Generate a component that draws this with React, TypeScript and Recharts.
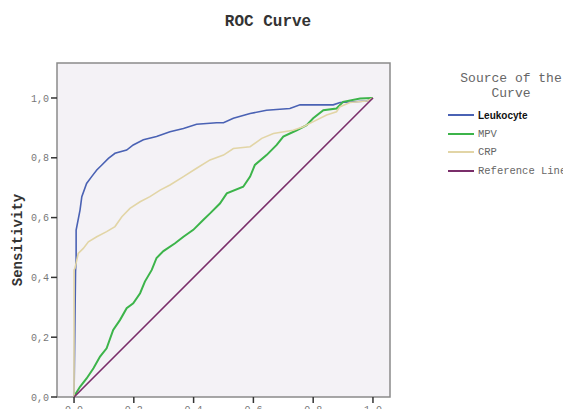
import React from "react";
import {
  LineChart,
  Line,
  XAxis,
  YAxis,
  ReferenceArea,
} from "recharts";

// ROC points: [1 - specificity, sensitivity]
const leukocyteX = [0, 0.005, 0.007, 0.007, 0.02, 0.026, 0.042, 0.059, 0.076, 0.093, 0.115, 0.137, 0.176, 0.198, 0.232, 0.276, 0.321, 0.366, 0.41, 0.477, 0.5, 0.533, 0.589, 0.644, 0.722, 0.756, 0.867, 0.89, 0.98, 1];
const leukocyteY = [0, 0.42, 0.46, 0.558, 0.625, 0.67, 0.714, 0.737, 0.759, 0.776, 0.798, 0.815, 0.826, 0.843, 0.86, 0.871, 0.887, 0.898, 0.912, 0.917, 0.917, 0.932, 0.948, 0.959, 0.965, 0.977, 0.977, 0.985, 0.99, 1];

const crpX = [0, 0, 0.003, 0.014, 0.031, 0.048, 0.076, 0.109, 0.137, 0.16, 0.187, 0.221, 0.254, 0.288, 0.321, 0.366, 0.41, 0.455, 0.5, 0.533, 0.589, 0.628, 0.667, 0.733, 0.767, 0.789, 0.845, 0.878, 0.89, 0.923, 0.98, 1];
const crpY = [0, 0.425, 0.43, 0.48, 0.497, 0.519, 0.536, 0.553, 0.57, 0.603, 0.631, 0.653, 0.67, 0.692, 0.709, 0.737, 0.765, 0.793, 0.809, 0.831, 0.837, 0.865, 0.881, 0.892, 0.904, 0.915, 0.943, 0.954, 0.971, 0.985, 0.99, 1];

const mpvX = [0, 0.003, 0.02, 0.042, 0.065, 0.087, 0.109, 0.131, 0.154, 0.176, 0.198, 0.221, 0.237, 0.26, 0.276, 0.299, 0.338, 0.366, 0.399, 0.432, 0.455, 0.488, 0.511, 0.566, 0.589, 0.605, 0.644, 0.678, 0.7, 0.745, 0.778, 0.8, 0.834, 0.878, 0.9, 0.957, 0.996, 1];
const mpvY = [0, 0.007, 0.034, 0.062, 0.096, 0.135, 0.163, 0.224, 0.258, 0.297, 0.313, 0.347, 0.386, 0.425, 0.465, 0.488, 0.514, 0.536, 0.559, 0.592, 0.614, 0.647, 0.681, 0.703, 0.737, 0.776, 0.809, 0.843, 0.871, 0.892, 0.909, 0.932, 0.959, 0.965, 0.987, 0.998, 1, 1];

const refX = [0, 1];
const refY = [0, 1];

const xTicks = [0, 0.2, 0.4, 0.6, 0.8, 1.0];
const yTicks = [0, 0.2, 0.4, 0.6, 0.8, 1.0];

const toPoints = (xs: number[], ys: number[]) =>
  xs.map((x, i) => ({ x, y: ys[i] }));

const series = [
  { name: "Leukocyte", color: "#4a62b4", width: 1.6, data: toPoints(leukocyteX, leukocyteY) },
  { name: "MPV", color: "#3cb44a", width: 2, data: toPoints(mpvX, mpvY) },
  { name: "CRP", color: "#e2d5a6", width: 1.6, data: toPoints(crpX, crpY) },
  { name: "Reference Line", color: "#7a2e6a", width: 1.6, data: toPoints(refX, refY) },
];

const mono = "'Liberation Mono', 'DejaVu Sans Mono', monospace";

// legend drawn by hand so it doesn't eat into the plot width
const LegendBox = () => (
  <div style={{ position: "absolute", left: 448, top: 71, width: 130, fontFamily: mono, color: "#666" }}>
    <div style={{ fontSize: 13, textAlign: "center", lineHeight: "15px", width: 114, marginLeft: 6 }}>
      Source of the
      <br />
      Curve
    </div>
    <div style={{ marginTop: 5 }}>
      {series.map((s, i) => (
        <div key={s.name} style={{ display: "flex", alignItems: "center", height: 18.5 }}>
          <div style={{ width: 26, height: 2, background: s.color, marginRight: 4 }} />
          <span
            style={
              i === 0
                ? { fontFamily: "'Liberation Sans', Arial, sans-serif", fontSize: 10, color: "#111", fontWeight: 600 }
                : { fontSize: 10.5, color: "#666", whiteSpace: "nowrap" }
            }
          >
            {s.name}
          </span>
        </div>
      ))}
    </div>
  </div>
);

export default function App() {
  return (
    <div style={{ position: "relative", width: 571, height: 417, background: "#fff", overflow: "hidden", margin: -8 }}>
      <div style={{ position: "absolute", left: 0, right: 0, top: 7, height: 1, background: "#e2e2e2" }} />
      <div
        style={{
          position: "absolute",
          left: 0,
          width: 536,
          top: 13,
          textAlign: "center",
          fontFamily: mono,
          fontWeight: "bold",
          fontSize: 16,
          color: "#333",
        }}
      >
        ROC Curve
      </div>
      <div
        style={{
          position: "absolute",
          left: 18,
          top: 240,
          transform: "translate(-50%, -50%) rotate(-90deg)",
          fontFamily: mono,
          fontWeight: "bold",
          fontSize: 14,
          color: "#333",
          whiteSpace: "nowrap",
        }}
      >
        Sensitivity
      </div>
      <LineChart
        width={571}
        height={417}
        margin={{ top: 63, right: 181, bottom: 0, left: 0 }}
        style={{ position: "absolute", left: 0, top: 0 }}
      >
        <XAxis
          type="number"
          dataKey="x"
          domain={[-0.057, 1.057]}
          ticks={xTicks}
          allowDataOverflow
          height={20}
          axisLine={false}
          tickLine={{ stroke: "#333", strokeWidth: 1.5 }}
          tickSize={6}
          tickMargin={3}
          tickFormatter={(v: number) => v.toFixed(1)}
          tick={{ fontFamily: mono, fontSize: 10, fill: "#777" }}
        />
        <YAxis
          type="number"
          dataKey="y"
          domain={[0, 1.117]}
          ticks={yTicks}
          allowDataOverflow
          width={57}
          axisLine={false}
          tickLine={{ stroke: "#333", strokeWidth: 1.5 }}
          tickSize={6}
          tickFormatter={(v: number) => v.toFixed(1).replace(".", ",")}
          tick={{ fontFamily: mono, fontSize: 10, fill: "#777" }}
        />
        <ReferenceArea
          x1={-0.057}
          x2={1.057}
          y1={0}
          y2={1.117}
          fill="#f4f2f6"
          fillOpacity={1}
          stroke="#8a8a8a"
          strokeWidth={1.5}
        />
        {series.map((s) => (
          <Line
            key={s.name}
            data={s.data}
            dataKey="y"
            name={s.name}
            type="linear"
            stroke={s.color}
            strokeWidth={s.width}
            dot={false}
            activeDot={false}
            isAnimationActive={false}
          />
        ))}
      </LineChart>
      <LegendBox />
    </div>
  );
}
